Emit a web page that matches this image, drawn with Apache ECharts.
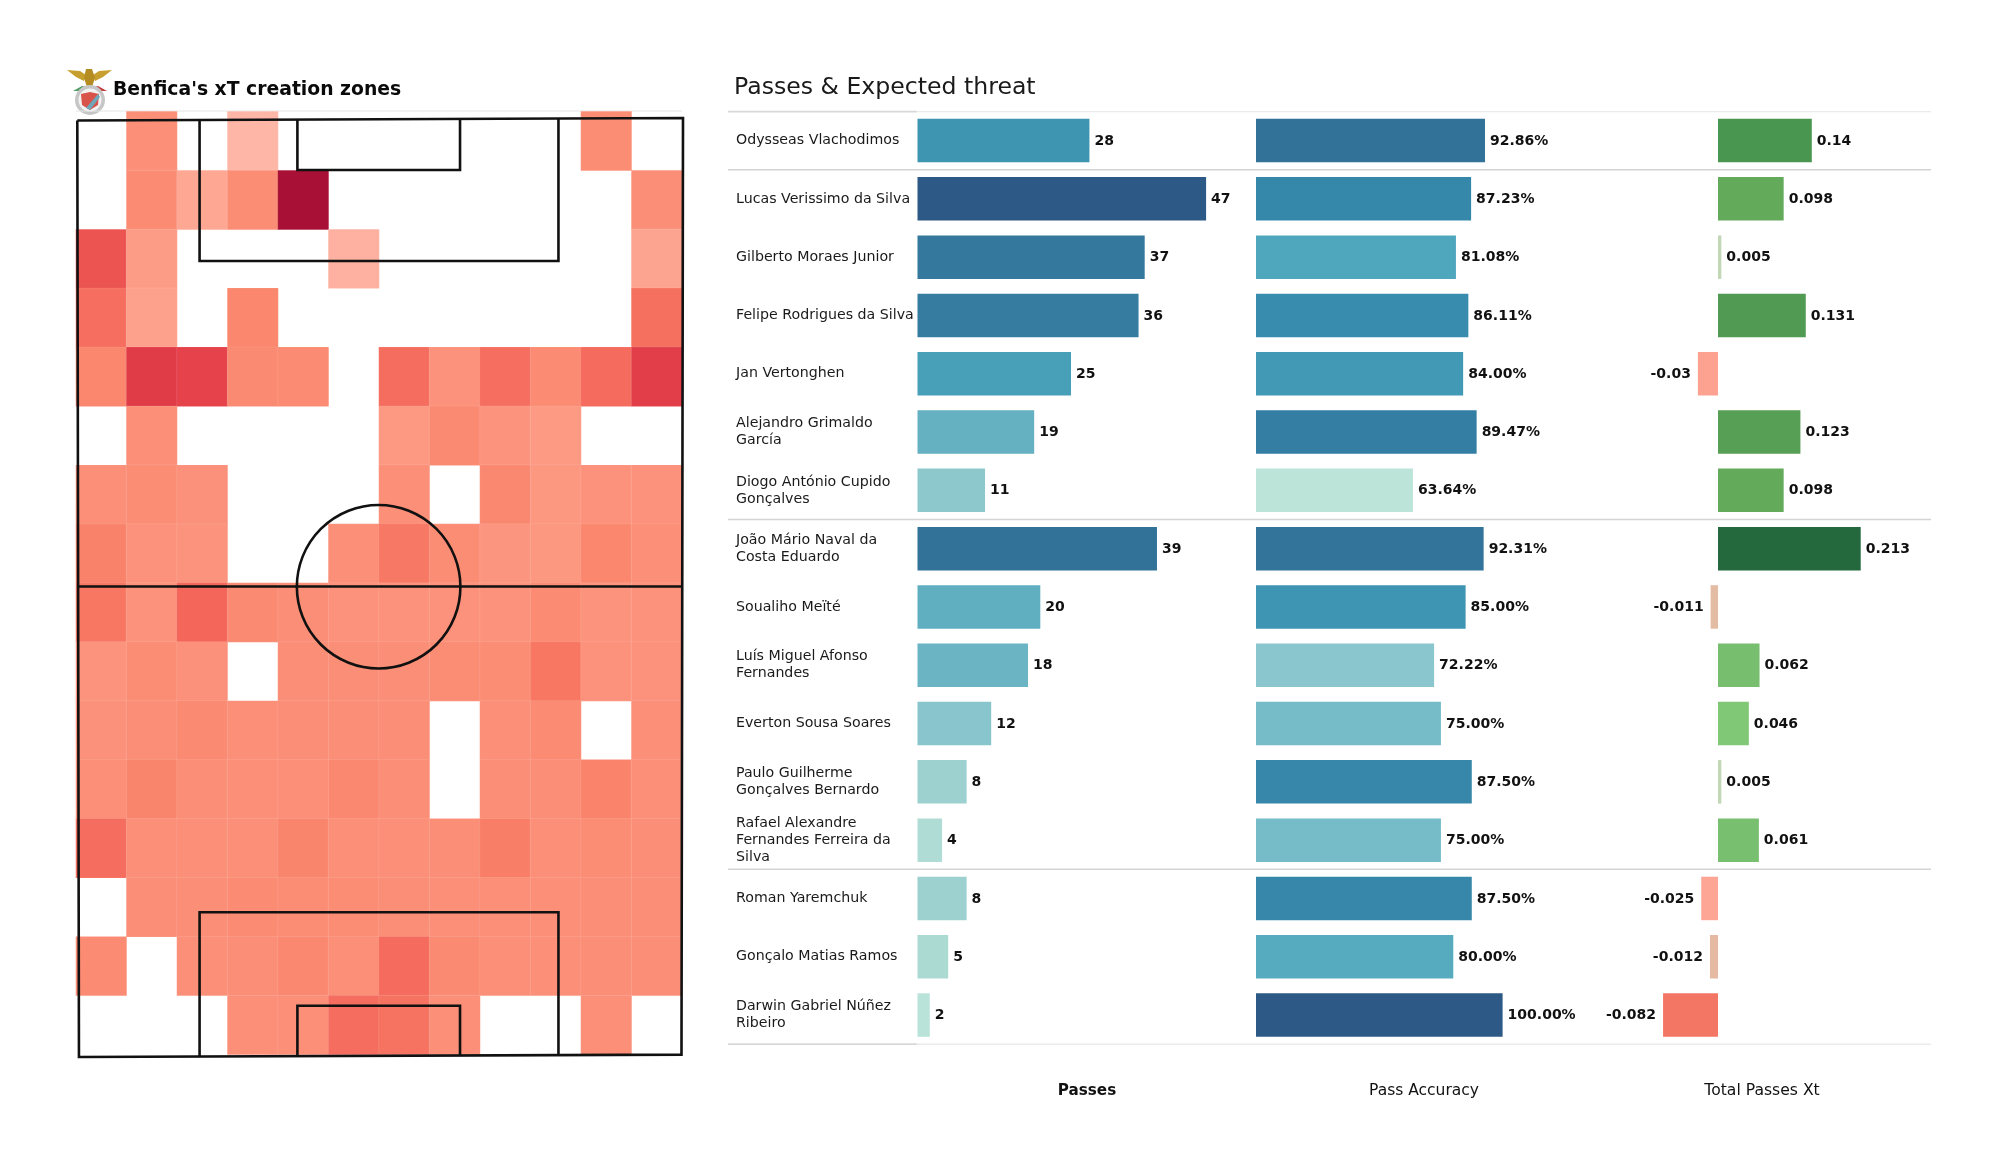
<!DOCTYPE html>
<html>
<head>
<meta charset="utf-8">
<style>html,body{margin:0;padding:0;background:#fff}#c{width:2000px;height:1175px}</style>
<script src="https://cdn.jsdelivr.net/npm/echarts@6/dist/echarts.min.js"></script>
</head>
<body>
<div id="c"></div>
<script>
const FONT = "'DejaVu Sans'";
const players = ["Odysseas Vlachodimos","Lucas Verissimo da Silva","Gilberto Moraes Junior","Felipe Rodrigues da Silva","Jan Vertonghen","Alejandro Grimaldo\nGarcía","Diogo António Cupido\nGonçalves","João Mário Naval da\nCosta Eduardo","Soualiho Meïté","Luís Miguel Afonso\nFernandes","Everton Sousa Soares","Paulo Guilherme\nGonçalves Bernardo","Rafael Alexandre\nFernandes Ferreira da\nSilva","Roman Yaremchuk","Gonçalo Matias Ramos","Darwin Gabriel Núñez\nRibeiro"];
const passes = [28,47,37,36,25,19,11,39,20,18,12,8,4,8,5,2];
const accuracy = [92.86,87.23,81.08,86.11,84.00,89.47,63.64,92.31,85.00,72.22,75.00,87.50,75.00,87.50,80.00,100.00];
const xtValues = [0.14,0.098,0.005,0.131,-0.03,0.123,0.098,0.213,-0.011,0.062,0.046,0.005,0.061,-0.025,-0.012,-0.082];
const columnTitles = ["Passes","Pass Accuracy","Total Passes Xt"];
const rowRules = [0,1,7,13,16];

const _ = null;
const heatRows = [
 [_,24,_, 6,_,  _, _, _, _, _,26,_],
 [_,27,12,26,100,_, _, _, _, _, _,25],
 [58,16,_,_,_,  8, _, _, _, _, _,13],
 [45,14,_,30,_, _, _, _, _, _, _,44],
 [30,70,66,28,27,_,46,22,45,27,47,68],
 [_,24,_,_,_,  _,18,28,21,17,_,_],
 [24,26,23,_,_, _,24,_,29,19,22,22],
 [33,22,21,_,_,24,39,26,20,19,30,24],
 [40,22,50,28,25,22,22,22,22,27,21,22],
 [21,26,23,_,25,25,25,26,26,40,22,22],
 [23,25,28,24,25,25,25,_,24,27,_,24],
 [24,31,25,24,24,29,25,_,25,25,32,24],
 [46,24,24,24,31,24,24,25,36,24,26,25],
 [_,25,25,27,26,26,25,24,24,24,25,25],
 [27,_,24,25,29,24,47,28,24,24,25,25],
 [_,_,_,24,24,46,42,24,_,_,24,_]
];
const heatColors = ['#ffc7ba','#fd9a84','#f98269','#f4665a','#e4404a','#cf2a40','#a91035'];
const passColors = ['#b9e3d8','#a1d4d0','#88c5cc','#6fb7c5','#55a9bd','#3e98b4','#3a88aa','#35789e','#306890','#2c5985'];
const accColors = ['#bce4d9','#a0d4d2','#86c4cc','#66b4c3','#4ba5bd','#378cae','#34789e','#2f6a92','#2c5985'];
const xtColors = ['#f37664','#fb9080','#fda896','#bfd9b7','#86cc7a','#75bd6d','#65ac5b','#559e55','#3f8e4c','#317d45','#23693d'];

// Pitch markings in pitch units (80 wide, 120 long)
const pitchPaths = [
 [[0,0.31],[80,0],[79.8,119.7],[0.22,120],[0,0.31]],
 [[0,59.87],[80,59.87]],
 [[16.15,0.25],[16.15,18.27],[63.55,18.27],[63.55,0.1]],
 [[29.07,0.2],[29.07,6.65],[50.55,6.65],[50.55,0.15]],
 [[16.15,119.95],[16.15,101.5],[63.55,101.5],[63.55,119.75]],
 [[29.07,119.9],[29.07,113.45],[50.55,113.45],[50.55,119.8]]
];
const pitchCircle = {x:39.8, y:59.9, r:10.8};

const heatData=[];
heatRows.forEach((r,y)=>r.forEach((v,x)=>{ if(v!==null) heatData.push([x,y,v]); }));
const colCats = heatRows[0].map((_v,i)=>String(i));
const rowCats = heatRows.map((_v,i)=>String(i));

const ROW_TOP=111.4, ROW_H=932.8;
const labelStyle = {show:true,fontFamily:FONT,fontWeight:'bold',fontSize:14,color:'#111',position:'right',distance:5,offset:[0,0.5]};

function catAxis(gridIndex, showLabels){
  return {type:'category',gridIndex,inverse:true,data:players,
    axisLine:{show:false},axisTick:{show:false},splitLine:{show:false},
    axisLabel: showLabels ? {show:true,align:'left',margin:181.5,fontFamily:FONT,fontSize:14.2,lineHeight:17,color:'#1a1a1a',interval:0,padding:[2,0,0,0]} : {show:false}};
}
function barSeries(vals, axisIdx, fmt){
  return {type:'bar',xAxisIndex:axisIdx,yAxisIndex:axisIdx,barWidth:43.5,z:3,silent:true,
    data:vals.map((v,i)=>{
      const d={value:[v,i]};
      if(v<0) d.label={position:'left',distance:7};
      return d;
    }),
    label:Object.assign({},labelStyle,{formatter:p=>fmt(p.value[0])}),
    animation:false};
}

const ruleSeries = [];
rowRules.forEach(r=>{
  const edge = (r===0||r===16);
  ruleSeries.push({type:'line',xAxisIndex:3,yAxisIndex:3,silent:true,symbol:'none',animation:false,z:1,
    data:[[0,r],[edge?0.157:1,r]],lineStyle:{color:edge?'#d8d8d8':'#d4d4d4',width:edge?2:1.5}});
  if(edge) ruleSeries.push({type:'line',xAxisIndex:3,yAxisIndex:3,silent:true,symbol:'none',animation:false,z:1,
    data:[[0.157,r],[1,r]],lineStyle:{color:'#ebebeb',width:1.5}});
});

const chart = echarts.init(document.getElementById('c'),null,{renderer:'canvas'});
chart.setOption({
  backgroundColor:'#fff',
  animation:false,
  grid:[
    {left:917.5,top:ROW_TOP,width:288.6,height:ROW_H},
    {left:1256,top:ROW_TOP,width:246.6,height:ROW_H},
    {left:1651,top:ROW_TOP,width:214.4,height:ROW_H},
    {left:728,top:ROW_TOP,width:1203,height:ROW_H},
    {left:76,top:111.5,width:606,height:943},
    {left:77.3,top:118,width:605.7,height:939}
  ],
  xAxis:[
    {type:'value',gridIndex:0,min:0,max:47,show:false},
    {type:'value',gridIndex:1,min:0,max:100,show:false},
    {type:'value',gridIndex:2,min:-0.1,max:0.22,show:false},
    {type:'value',gridIndex:3,min:0,max:1,show:false},
    {type:'category',gridIndex:4,data:colCats,show:false},
    {type:'value',gridIndex:5,min:0,max:80,show:false}
  ],
  yAxis:[
    catAxis(0,true),catAxis(1,false),catAxis(2,false),
    {type:'value',gridIndex:3,min:0,max:16,inverse:true,show:false},
    {type:'category',gridIndex:4,data:rowCats,inverse:true,show:false},
    {type:'value',gridIndex:5,min:0,max:120,inverse:true,show:false}
  ],
  visualMap:[
    {show:false,type:'continuous',seriesIndex:0,dimension:2,min:0,max:100,inRange:{color:heatColors}},
    {show:false,type:'continuous',seriesIndex:2,dimension:0,min:2,max:47,inRange:{color:passColors}},
    {show:false,type:'continuous',seriesIndex:3,dimension:0,min:63.64,max:100,inRange:{color:accColors}},
    {show:false,type:'continuous',seriesIndex:4,dimension:0,min:-0.082,max:0.213,inRange:{color:xtColors}}
  ],
  series:[
    {type:'heatmap',xAxisIndex:4,yAxisIndex:4,data:heatData,silent:true,animation:false,z:2,
      itemStyle:{borderWidth:0.6,borderColor:'rgba(255,255,255,0.16)'}},
    {type:'custom',xAxisIndex:5,yAxisIndex:5,silent:true,animation:false,z:6,clip:false,
      data:pitchPaths.map((_p,i)=>[i]).concat([[pitchPaths.length]]),
      renderItem:(params,api)=>{
        const i=api.value(0);
        const style={stroke:'#111',lineWidth:2.6,fill:null};
        if(i<pitchPaths.length){
          return {type:'polyline',shape:{points:pitchPaths[i].map(p=>api.coord(p))},style};
        }
        const c=api.coord([pitchCircle.x,pitchCircle.y]);
        return {type:'circle',shape:{cx:c[0],cy:c[1],r:api.size([pitchCircle.r,0])[0]},style};
      }},
    barSeries(passes,0,v=>String(v)),
    barSeries(accuracy,1,v=>v.toFixed(2)+'%'),
    barSeries(xtValues,2,v=>String(v))
  ].concat(ruleSeries),
  graphic:[
    {type:'text',left:113,top:81,style:{text:"Benfica's xT creation zones",font:"bold 18.8px "+FONT,fill:'#0a0a0a'}},
    {type:'text',left:734,top:76,style:{text:"Passes & Expected threat",font:"23.6px "+FONT,fill:'#1a1a1a'}},
    {type:'text',x:1087,y:1091,style:{text:columnTitles[0],font:"bold 15.2px "+FONT,fill:'#111',align:'center',verticalAlign:'middle'}},
    {type:'text',x:1424,y:1091,style:{text:columnTitles[1],font:"15.5px "+FONT,fill:'#111',align:'center',verticalAlign:'middle'}},
    {type:'text',x:1762,y:1091,style:{text:columnTitles[2],font:"15.6px "+FONT,fill:'#111',align:'center',verticalAlign:'middle'}},
    {type:'line',shape:{x1:76,y1:111,x2:682,y2:111},style:{stroke:'#e4e4e4',lineWidth:1},z:1},
    // Benfica crest
    {type:'polygon',shape:{points:[[67,70],[80,71],[86,75],[84,81],[76,77]]},style:{fill:'#c79f2e'}},
    {type:'polygon',shape:{points:[[112,70],[99,71],[93,75],[95,81],[103,77]]},style:{fill:'#c79f2e'}},
    {type:'polygon',shape:{points:[[86,69],[92,69],[95,78],[92,87],[87,87],[84,78]]},style:{fill:'#b58c22'}},
    {type:'polygon',shape:{points:[[73,91],[82,86],[90,88],[90,92],[81,91]]},style:{fill:'#4f9a63'}},
    {type:'polygon',shape:{points:[[107,91],[98,86],[90,88],[90,92],[99,91]]},style:{fill:'#c23b3b'}},
    {type:'circle',shape:{cx:90,cy:100,r:15},style:{fill:'#c6c6c6'}},
    {type:'circle',shape:{cx:90,cy:100,r:11.5},style:{fill:'#f2f2f2'}},
    {type:'polygon',shape:{points:[[81,94],[90,92],[99,94],[98,105],[90,110],[82,105]]},style:{fill:'#d8534a'}},
    {type:'polygon',shape:{points:[[86,108],[98,94],[100,97],[90,110]]},style:{fill:'#6fa7b8'}}
  ]
});
</script>
</body>
</html>
